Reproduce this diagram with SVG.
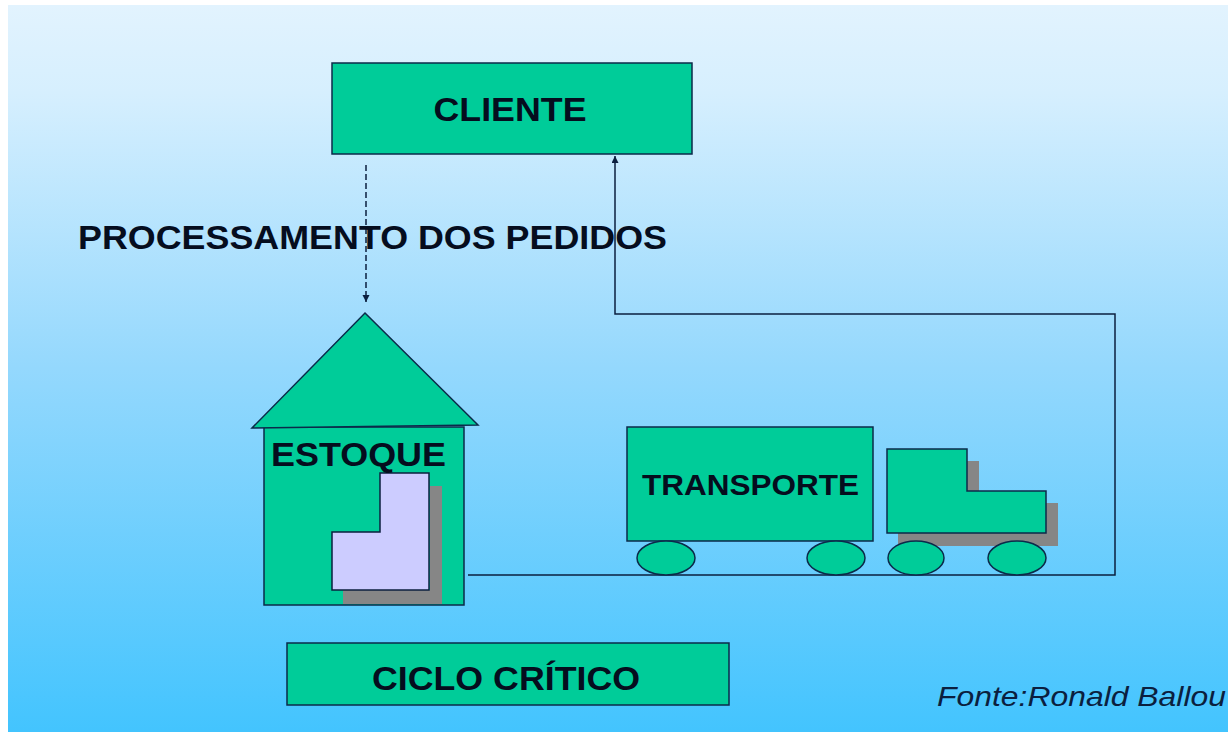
<svg xmlns="http://www.w3.org/2000/svg" width="1228" height="732" viewBox="0 0 1228 732">
<defs>
<linearGradient id="bg" x1="0" y1="0" x2="0" y2="1">
<stop offset="0" stop-color="#e2f3fe"/>
<stop offset="0.12" stop-color="#d6effe"/>
<stop offset="0.5" stop-color="#94d8fd"/>
<stop offset="1" stop-color="#43c4fe"/>
</linearGradient>
<marker id="ah" markerWidth="9" markerHeight="9" refX="7" refY="3.5" orient="auto" markerUnits="userSpaceOnUse"><path d="M0,0L7,3.5L0,7Z" fill="#0b1f3f"/></marker>
</defs>
<style>
.g{fill:#00cc99;stroke:#0b2a4a;stroke-width:1.5}
.s{fill:#868686}
.c{fill:none;stroke:#0b1f3f;stroke-width:1.5}
.t{font-family:"Liberation Sans",Arial,sans-serif;font-weight:bold;fill:#050d1e}
</style>
<rect width="1228" height="732" fill="#fff"/>
<rect x="8" y="5" width="1220" height="727" fill="url(#bg)"/>
<g id="connectors">
<path class="c" d="M366 165V302" stroke-dasharray="6 3" marker-end="url(#ah)"/>
<path class="c" d="M468 575H1115V314H615V156" marker-end="url(#ah)"/>
</g>
<g id="cliente"><rect class="g" x="332" y="63" width="360" height="91"/><text class="t" x="510" y="121" font-size="33" text-anchor="middle" textLength="153" lengthAdjust="spacingAndGlyphs">CLIENTE</text></g>
<g id="processamento"><text class="t" x="78" y="249" font-size="33" textLength="589" lengthAdjust="spacingAndGlyphs">PROCESSAMENTO DOS PEDIDOS</text></g>
<g id="estoque">
<rect class="g" x="264" y="427" width="200" height="178"/>
<path class="g" d="M365 313L478 425L252 428Z"/>
<path class="s" d="M343 592H442V486H430V590H343Z"/>
<rect class="s" x="343" y="590" width="99" height="14"/>
<path d="M380 473H429V590H332V532H380Z" fill="#ccccff" stroke="#0b1f3f" stroke-width="1.5"/>
<text class="t" x="271" y="466" font-size="33" textLength="175" lengthAdjust="spacingAndGlyphs">ESTOQUE</text>
</g>
<g id="transporte">
<rect class="g" x="627" y="427" width="246" height="114"/>
<text class="t" x="642" y="495" font-size="30" textLength="217" lengthAdjust="spacingAndGlyphs">TRANSPORTE</text>
<ellipse class="g" cx="666" cy="558" rx="29" ry="17"/>
<ellipse class="g" cx="836" cy="558" rx="29" ry="17"/>
</g>
<g id="caminhao">
<path class="s" d="M967 461H979V503H1058V546H898V533H967Z"/>
<path class="g" d="M887 449H967V491H1046V533H887Z"/>
<ellipse class="g" cx="916" cy="558" rx="28" ry="17"/>
<ellipse class="g" cx="1017" cy="558" rx="29" ry="17"/>
</g>
<g id="ciclo"><rect class="g" x="287" y="643" width="442" height="62"/><text class="t" x="506" y="690" font-size="33" text-anchor="middle" textLength="268" lengthAdjust="spacingAndGlyphs">CICLO CRÍTICO</text></g>
<g id="fonte"><text x="937" y="706" font-family="'Liberation Sans',Arial,sans-serif" font-style="italic" font-size="28" fill="#0b1f3f" textLength="289" lengthAdjust="spacingAndGlyphs">Fonte:Ronald Ballou</text></g>
</svg>
